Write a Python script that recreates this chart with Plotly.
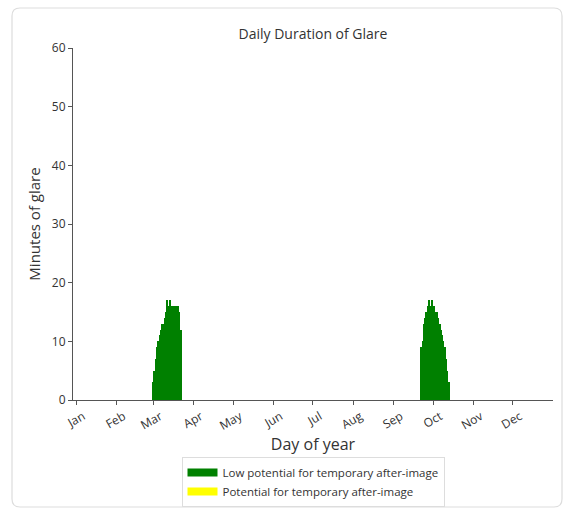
import plotly.graph_objects as go

# Day-of-year minutes of glare (low potential for temporary after-image)
spring_days = list(range(60, 82))
spring_minutes = [3, 5, 7, 9, 10, 11, 12, 13, 13, 14, 15, 17, 16, 17,
                  16, 16, 16, 16, 16, 16, 15, 12]

autumn_days = list(range(265, 287))
autumn_minutes = [9, 10, 13, 14, 15, 16, 17, 16, 17, 16, 16, 15,
                  15, 14, 13, 12, 11, 10, 9, 7, 5, 3]

low_days = spring_days + autumn_days
low_minutes = spring_minutes + autumn_minutes

# No days with potential for temporary after-image
after_days = []
after_minutes = []

month_ticks = [1, 32, 60, 91, 121, 152, 182, 213, 244, 274, 305, 335]
month_labels = ["Jan", "Feb", "Mar", "Apr", "May", "Jun",
                "Jul", "Aug", "Sep", "Oct", "Nov", "Dec"]

GREEN = "#008000"
YELLOW = "#ffff00"
TEXT = "#333333"
AXIS = "#555555"
FONT = "Open Sans"

fig = go.Figure()

fig.add_trace(go.Bar(x=low_days, y=low_minutes, width=1,
                     marker=dict(color=GREEN, line=dict(width=0)),
                     showlegend=False, hoverinfo="x+y"))
fig.add_trace(go.Bar(x=after_days, y=after_minutes, width=1,
                     marker=dict(color=YELLOW, line=dict(width=0)),
                     showlegend=False))

# legend swatches drawn as thick line keys
fig.add_trace(go.Scatter(x=[None], y=[None], mode="lines",
                         line=dict(color=GREEN, width=8),
                         name="Low potential for temporary after-image"))
fig.add_trace(go.Scatter(x=[None], y=[None], mode="lines",
                         line=dict(color=YELLOW, width=8),
                         name="Potential for temporary after-image"))

# card outline with rounded corners (paper coordinates)
W, H = 480.0, 352.0
x0, x1 = (12 - 73) / W, (562 - 73) / W
y0, y1 = (400 - 507) / H, (400 - 8) / H
rx, ry = 8 / W, 8 / H
card = (f"M {x0+rx},{y1} L {x1-rx},{y1} Q {x1},{y1} {x1},{y1-ry} "
        f"L {x1},{y0+ry} Q {x1},{y0} {x1-rx},{y0} "
        f"L {x0+rx},{y0} Q {x0},{y0} {x0},{y0+ry} "
        f"L {x0},{y1-ry} Q {x0},{y1} {x0+rx},{y1} Z")
fig.add_shape(type="path", path=card, xref="paper", yref="paper",
              line=dict(color="#dddddd", width=1.2), layer="below")

fig.update_layout(
    width=565, height=512,
    margin=dict(l=73, r=12, t=48, b=112, autoexpand=False),
    paper_bgcolor="white", plot_bgcolor="white",
    bargap=0, barmode="overlay",
    font=dict(family=FONT, color=TEXT, size=12),
    title=dict(text="Daily Duration of Glare", x=0.5, xref="paper",
               xanchor="center", y=1 - 34 / 512, yanchor="middle",
               font=dict(size=14, color=TEXT, family=FONT)),
    xaxis=dict(range=[-1.3, 365.6], tickmode="array",
               tickvals=month_ticks, ticktext=month_labels,
               tickangle=-30, ticks="outside", ticklen=4, tickcolor=AXIS,
               showline=True, linecolor=AXIS, linewidth=1,
               showgrid=False, zeroline=False, automargin=False,
               ticklabelshift=7,
               tickfont=dict(size=12, color=TEXT),
               title=dict(text="Day of year", standoff=5,
                          font=dict(size=16, color=TEXT))),
    yaxis=dict(range=[0, 60], tickmode="linear", tick0=0, dtick=10,
               ticks="outside", ticklen=4, tickcolor=AXIS,
               showline=True, linecolor=AXIS, linewidth=1,
               showgrid=False, zeroline=False, automargin=False,
               tickfont=dict(size=12, color=TEXT),
               title=dict(text="Minutes of glare", standoff=7,
                          font=dict(size=15, color=TEXT))),
    legend=dict(orientation="v", x=0.5, xanchor="center",
                y=-57 / 352, yanchor="top",
                bordercolor="#dddddd", borderwidth=1,
                font=dict(size=11.5, color=TEXT), itemwidth=30,
                tracegroupgap=0),
)

fig.write_html("out.html")
